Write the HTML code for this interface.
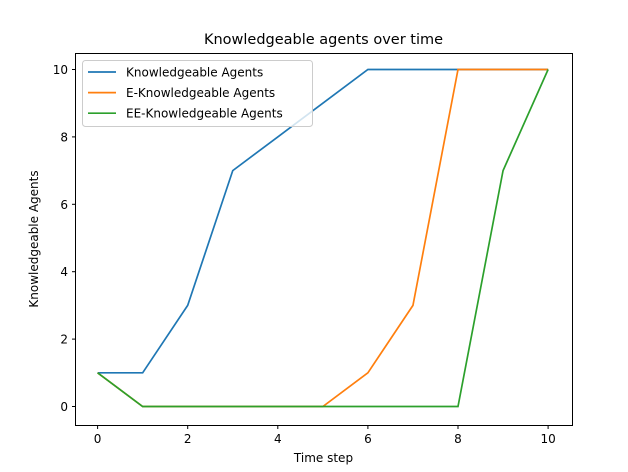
<!DOCTYPE html>
<html><head><meta charset="utf-8"><style>body{margin:0;background:#fff}svg{display:block;font-family:"DejaVu Sans","Liberation Sans",sans-serif}</style></head>
<body>
<svg id="chart" width="628" height="472" viewBox="0 0 628 472" xmlns="http://www.w3.org/2000/svg">
<rect width="628" height="472" fill="#fff"/>
<text x="323.5" y="44" text-anchor="middle" font-size="14.5">Knowledgeable agents over time</text>
<text x="323.5" y="462" text-anchor="middle" font-size="12">Time step</text>
<text transform="translate(38,239) rotate(-90)" text-anchor="middle" font-size="12">Knowledgeable Agents</text>
<g id="plot"></g>
<rect x="75.5" y="53.5" width="497" height="372" fill="none" stroke="#000" stroke-width="1"/>
<g>
<rect x="82.5" y="60.5" width="230" height="66" rx="3" fill="#fff" fill-opacity="0.8" stroke="#ccc"/>
<g id="leg"></g>
</g>
</svg>
<script>
const steps=[0,1,2,3,4,5,6,7,8,9,10];
const knowledgeable=[1,1,3,7,8,9,10,10,10,10,10];
const eKnowledgeable=[1,0,0,0,0,0,1,3,10,10,10];
const eeKnowledgeable=[1,0,0,0,0,0,0,0,0,7,10];
const xTicks=[0,2,4,6,8,10];
const yTicks=[0,2,4,6,8,10];
const seriesNames=["Knowledgeable Agents","E-Knowledgeable Agents","EE-Knowledgeable Agents"];
const colors=["#1f77b4","#ff7f0e","#2ca02c"];
const xs=v=>97.6+v*45.05;
const ys=v=>406.5-v*33.7;
const NS="http://www.w3.org/2000/svg";
const plot=document.getElementById('plot');
function mk(t,a){const e=document.createElementNS(NS,t);for(const k in a)e.setAttribute(k,a[k]);return e;}
xTicks.forEach(t=>{
 const l=mk('line',{x1:xs(t),x2:xs(t),y1:425.5,y2:429,stroke:'#000'});
 
 
 plot.appendChild(l);
 const tx=mk('text',{x:xs(t),y:443,'text-anchor':'middle','font-size':'12'});
 
 
 tx.textContent=t;plot.appendChild(tx);
});
yTicks.forEach(t=>{
 const l=mk('line',{x1:72,x2:75.5,y1:ys(t),y2:ys(t),stroke:'#000'});
 
 
 plot.appendChild(l);
 const tx=mk('text',{x:68,y:ys(t)+4.5,'text-anchor':'end','font-size':'12'});
 
 
 tx.textContent=t;plot.appendChild(tx);
});
[knowledgeable,eKnowledgeable,eeKnowledgeable].forEach((s,i)=>{
 const p=mk('polyline',{points:s.map((v,j)=>xs(steps[j])+','+ys(v)).join(' '),fill:'none',stroke:colors[i],'stroke-width':'1.7'});
 
 
 plot.appendChild(p);
});
const leg=document.getElementById('leg');
seriesNames.forEach((n,i)=>{
 const y=72+i*20.6;
 const l=mk('line',{x1:88,x2:116,y1:y,y2:y,stroke:colors[i],'stroke-width':'1.7'});
 
 
 leg.appendChild(l);
 const t=mk('text',{x:126,y:y+4.5,'font-size':'12'});
 
 
 t.textContent=n;leg.appendChild(t);
});
</script>
</body></html>
